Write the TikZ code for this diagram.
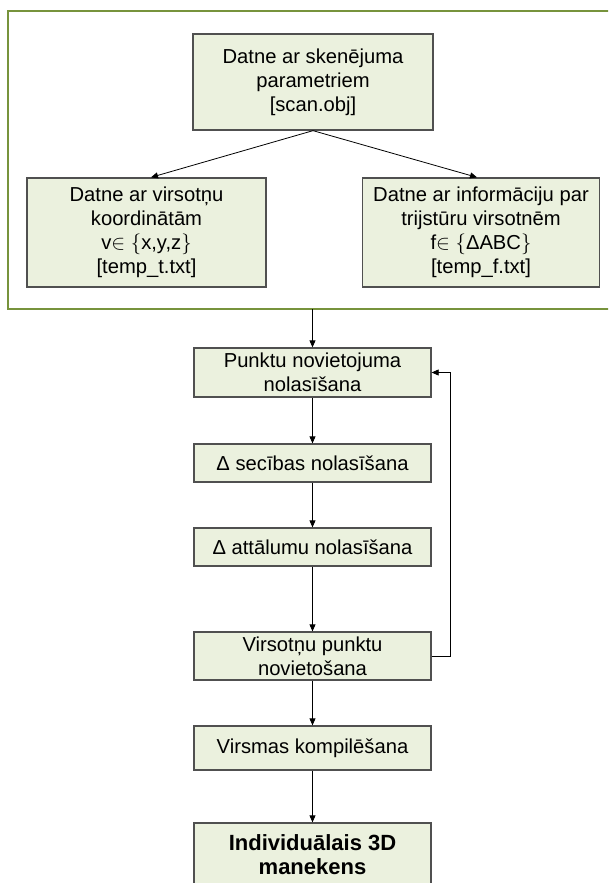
\documentclass[tikz,border=0pt]{standalone}
\usepackage{fontspec}
\setmainfont{Liberation Sans}
\usetikzlibrary{arrows.meta}
\definecolor{boxfill}{HTML}{EBF1DE}
\definecolor{frameg}{HTML}{77933C}
\definecolor{boxline}{HTML}{505050}
\tikzset{
  flowbox/.style={draw=boxline, line width=1.3pt, fill=boxfill, align=center,
    inner sep=2pt, font=\fontsize{20.2}{24}\selectfont},
  conn/.style={draw=black, line width=0.8pt, -{Triangle[length=7pt,width=6pt]}},
}
\begin{document}
\begin{tikzpicture}[x=1pt,y=-1pt]
\useasboundingbox (0,0) rectangle (608,883);
\clip (0,0) rectangle (608,883);
% outer frame
\draw[frameg, line width=2.5pt, fill=white] (8,11) rectangle (640,309);
\node[flowbox, minimum width=240pt, minimum height=96pt] (top) at (313,82)
  {Datne ar skenējuma\\parametriem\\{[scan.obj]}};
\node[flowbox, minimum width=239pt, minimum height=109pt] (left) at (146.5,232.5)
  {Datne ar virsotņu\\koordinātām\\v$\in$ $\{$x,y,z$\}$\\{[temp\_t.txt]}};
\node[flowbox, minimum width=237pt, minimum height=109pt] (right) at (481,232.5)
  {Datne ar informāciju par\\trijstūru virsotnēm\\f$\in$ $\{$ΔABC$\}$\\{[temp\_f.txt]}};
\draw[conn] (top.south) -- ([xshift=4.5pt]left.north);
\draw[conn] (top.south) -- ([xshift=-4pt]right.north);
\coordinate (fr) at (312.5,309);
\node[flowbox, minimum width=237pt, minimum height=49pt] (pun) at (312.5,372.5)
  {Punktu novietojuma\\nolasīšana};
\node[flowbox, minimum width=237pt, minimum height=38pt] (sec) at (312.5,463)
  {Δ secības nolasīšana};
\node[flowbox, minimum width=237pt, minimum height=38pt] (att) at (312.5,547)
  {Δ attālumu nolasīšana};
\node[flowbox, minimum width=237pt, minimum height=48pt] (vir) at (312.5,656)
  {Virsotņu punktu\\novietošana};
\node[flowbox, minimum width=237pt, minimum height=44pt] (vsm) at (312.5,748)
  {Virsmas kompilēšana};
\node[flowbox, minimum width=237pt, minimum height=64pt, font=\fontsize{22}{24}\selectfont\bfseries] (ind) at (312.5,855)
  {Individuālais 3D\\manekens};
\draw[conn] (fr) -- (pun.north);
\draw[conn] (pun.south) -- (sec.north);
\draw[conn] (sec.south) -- (att.north);
\draw[conn] (att.south) -- (vir.north);
\draw[conn] (vir.south) -- (vsm.north);
\draw[conn] (vsm.south) -- (ind.north);
\draw[conn] (vir.east) -- ++(19,0) |- (pun.east);
\end{tikzpicture}
\end{document}
